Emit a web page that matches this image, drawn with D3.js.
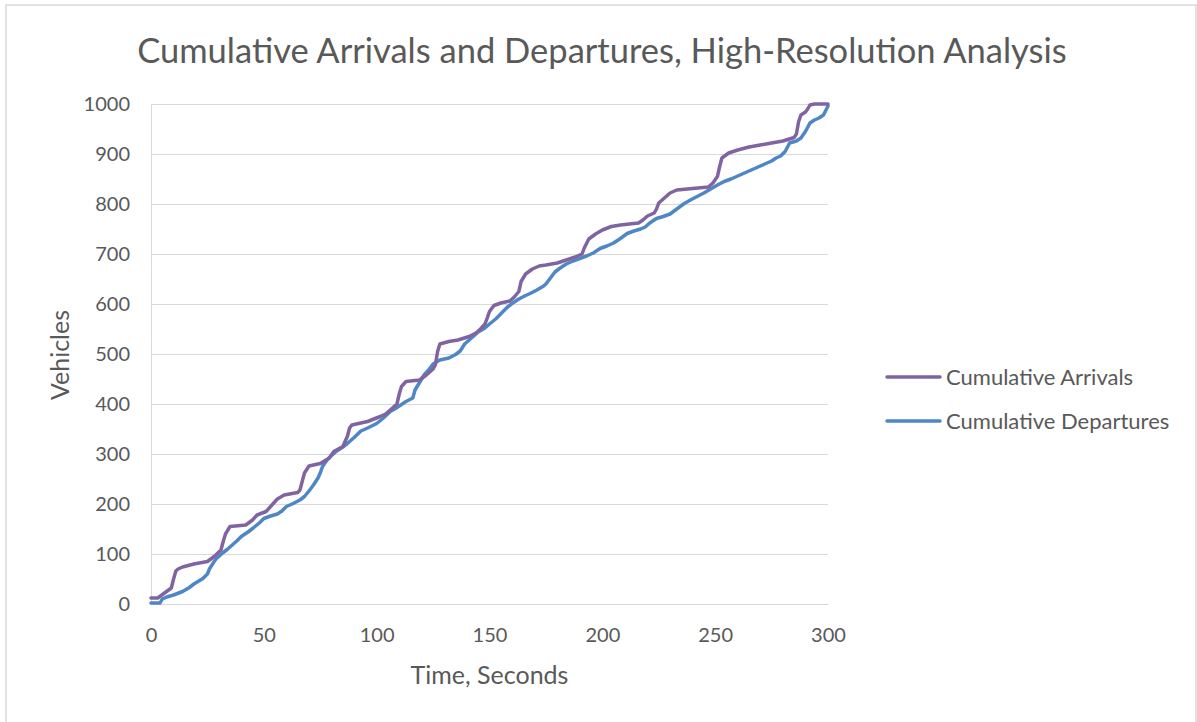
<!DOCTYPE html>
<html>
<head>
<meta charset="utf-8">
<script src="https://cdn.jsdelivr.net/npm/d3@7"></script>
<style>
  html, body { margin: 0; padding: 0; background: #ffffff; }
  svg { display: block; font-family: Lato, "Open Sans", sans-serif; }
</style>
</head>
<body>
<svg id="chart" width="1197" height="722"></svg>
<script>
// Cumulative vehicle counts: [time in seconds, vehicles]
const arrivals = [
  [0,12],[3,12],[6,22],[9,32],[10,50],[11,66],[12,70],[14,74],[19,80],[25,85],[28,95],[31,108],
  [32,125],[33,140],[35,155],[42,158],[45,168],[47,178],[51,185],[54,200],[56,210],[59,218],
  [65,223],[66,228],[67,245],[68,262],[70,276],[75,281],[79,292],[81,305],[85,315],[87,335],
  [88,352],[89,358],[93,362],[96,365],[101,374],[104,380],[107,392],[109,400],[110,420],[111,435],
  [113,445],[119,448],[122,458],[125,470],[126,478],[127,505],[128,520],[132,525],[136,528],
  [141,535],[144,542],[146,550],[148,560],[149,572],[150,585],[152,597],[155,602],[159,606],
  [161,614],[163,625],[164,645],[166,660],[169,670],[172,676],[175,678],[180,682],[184,688],
  [188,694],[191,700],[192,712],[194,730],[197,740],[200,748],[204,755],[208,758],[212,760],
  [216,762],[218,768],[220,776],[223,782],[224,790],[225,802],[227,810],[230,822],[233,828],
  [240,831],[247,834],[249,842],[251,855],[252,875],[253,892],[256,902],[260,908],[265,914],
  [270,918],[275,922],[280,926],[285,933],[286,940],[287,965],[288,978],[290,984],[291,990],
  [292,998],[294,1000],[300,1000]
];

const departures = [
  [0,2],[4,2],[5,10],[7,14],[10,18],[14,25],[17,33],[19,40],[23,51],[25,60],[26,71],[28,85],
  [29,91],[32,103],[34,110],[36,118],[38,126],[40,135],[43,144],[45,151],[48,162],[50,171],
  [53,176],[56,180],[58,186],[60,195],[63,201],[66,208],[68,215],[70,226],[72,238],[74,252],
  [75,262],[76,275],[78,288],[80,297],[82,305],[85,314],[87,321],[90,333],[93,346],[96,352],
  [100,361],[103,372],[106,385],[108,390],[110,396],[113,405],[116,412],[117,428],[119,443],
  [121,458],[123,468],[125,480],[128,488],[132,492],[135,499],[137,506],[139,520],[142,532],
  [145,544],[148,552],[150,560],[153,571],[156,585],[158,594],[160,601],[163,610],[166,617],
  [168,621],[171,628],[174,636],[175,640],[177,652],[179,664],[181,671],[184,680],[187,686],
  [190,691],[193,696],[196,702],[199,711],[202,716],[205,722],[208,731],[211,741],[214,746],
  [217,750],[219,754],[221,762],[224,771],[227,775],[230,780],[233,790],[236,800],[239,808],
  [242,815],[245,822],[248,830],[251,838],[254,845],[257,850],[260,856],[263,862],[266,868],
  [269,874],[272,880],[275,886],[277,892],[279,896],[281,905],[283,922],[286,926],[288,932],
  [290,945],[292,962],[294,968],[296,972],[298,978],[300,996]
];

const seriesNames = ["Cumulative Arrivals", "Cumulative Departures"];
const seriesColors = ["#8064a2", "#4f86c6"];
const xTicks = [0, 50, 100, 150, 200, 250, 300];
const yTicks = [0, 100, 200, 300, 400, 500, 600, 700, 800, 900, 1000];

const chartTitle = "Cumulative Arrivals and Departures, High-Resolution Analysis";
const xTitle = "Time, Seconds";
const yTitle = "Vehicles";

const svg = d3.select("#chart");
const textColor = "#595959";

// Outer chart frame
svg.append("rect")
  .attr("x", 6).attr("y", 5)
  .attr("width", 1190).attr("height", 722)
  .attr("fill", "#ffffff")
  .attr("stroke", "#d9d9d9").attr("stroke-width", 1.5);

const plot = { left: 151, right: 828, top: 104, bottom: 604 };

const x = d3.scaleLinear().domain([0, 300]).range([plot.left, plot.right]);
const y = d3.scaleLinear().domain([0, 1000]).range([plot.bottom, plot.top]);

// Horizontal gridlines and y tick labels
const yAxis = d3.axisLeft(y).tickValues(yTicks).tickFormat(d3.format("d"))
  .tickSize(-(plot.right - plot.left)).tickPadding(21);
const gy = svg.append("g").attr("transform", `translate(${plot.left},0)`).call(yAxis);
gy.select(".domain").attr("stroke", "#d9d9d9");
gy.selectAll(".tick line").attr("stroke", "#d9d9d9").attr("stroke-width", 1);
gy.selectAll(".tick text")
  .attr("fill", textColor).attr("font-size", 20)
  .attr("font-family", "Lato, sans-serif");

// X axis baseline and labels
const xAxis = d3.axisBottom(x).tickValues(xTicks).tickFormat(d3.format("d"))
  .tickSize(0).tickPadding(24);
const gx = svg.append("g").attr("transform", `translate(0,${plot.bottom})`).call(xAxis);
gx.select(".domain").attr("stroke", "#d9d9d9");
gx.selectAll(".tick text")
  .attr("fill", textColor).attr("font-size", 20)
  .attr("font-family", "Lato, sans-serif");

// Series lines (departures underneath arrivals)
const line = d3.line().x(d => x(d[0])).y(d => y(d[1]));
[[departures, 1], [arrivals, 0]].forEach(([data, idx]) => {
  svg.append("path")
    .datum(data)
    .attr("fill", "none")
    .attr("stroke", seriesColors[idx])
    .attr("stroke-width", 3.5)
    .attr("stroke-linejoin", "round")
    .attr("stroke-linecap", "round")
    .attr("d", line);
});

// Titles
svg.append("text")
  .attr("x", 602).attr("y", 63)
  .attr("text-anchor", "middle")
  .attr("fill", textColor).attr("font-size", 34.5)
  .text(chartTitle);

svg.append("text")
  .attr("x", (plot.left + plot.right) / 2).attr("y", 684)
  .attr("text-anchor", "middle")
  .attr("fill", textColor).attr("font-size", 25)
  .text(xTitle);

svg.append("text")
  .attr("transform", "translate(69,355) rotate(-90)")
  .attr("text-anchor", "middle")
  .attr("fill", textColor).attr("font-size", 25)
  .text(yTitle);

// Legend
const legend = svg.append("g").attr("transform", "translate(887,377)");
seriesNames.forEach((name, i) => {
  const g = legend.append("g").attr("transform", `translate(0,${i * 44})`);
  g.append("line")
    .attr("x1", 0).attr("x2", 53).attr("y1", 0).attr("y2", 0)
    .attr("stroke", seriesColors[i]).attr("stroke-width", 3.5)
    .attr("stroke-linecap", "round");
  g.append("text")
    .attr("x", 59).attr("y", 0).attr("dy", "0.35em")
    .attr("fill", textColor).attr("font-size", 22)
    .text(name);
});
</script>
</body>
</html>
